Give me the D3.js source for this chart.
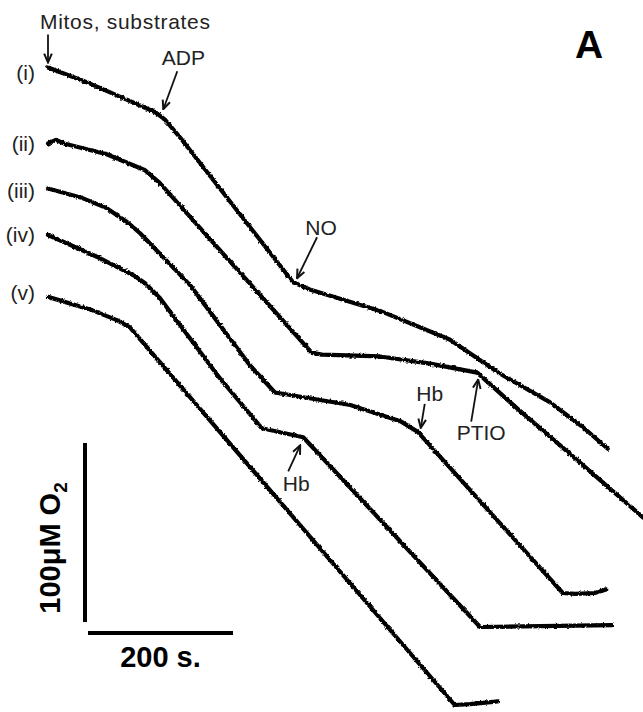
<!DOCTYPE html>
<html>
<head>
<meta charset="utf-8">
<script src="https://cdn.jsdelivr.net/npm/d3@7"></script>
<style>
  html, body { margin: 0; padding: 0; background: #fff; }
  svg { display: block; font-family: "Liberation Sans", Arial, sans-serif; }
</style>
</head>
<body>
<div id="chart"></div>
<script>
// O2 electrode traces, time in s, O2 in uM
const traceLabels = ['(i)', '(ii)', '(iii)', '(iv)', '(v)'];

const traceI = [[0, 226], [58, 217], [103, 209], [148, 201], [161, 197], [182, 187], [338, 106],
  [361, 102], [458, 90], [554, 74], [623, 55], [692, 39], [738, 25], [772, 13]];
const traceII = [[0, 226], [11, 228], [22, 226], [81, 220], [134, 211], [154, 204], [364, 109],
  [378, 108], [458, 107], [527, 103], [592, 98], [647, 78], [716, 54], [821, 17]];
const traceIII = [[0, 226], [45, 221], [81, 215], [110, 207], [127, 201], [196, 172], [279, 127], [313, 112], [417, 105],
  [486, 96], [510, 90], [710, 0], [727, -0.5], [754, 0], [770, 2]];
const traceIV = [[0, 219], [72, 206], [120, 196], [134, 192], [154, 184], [237, 139], [295, 111], [352, 106],
  [596, 0], [679, 0.5], [778, 1]];
const traceV = [[0, 228], [58, 221], [95, 215], [113, 211], [561, 0], [582, 0.5], [621, 2]];

const traces = [traceI, traceII, traceIII, traceIV, traceV];

// additions: which trace, time (s)
const events = [
  { label: 'Mitos, substrates', trace: 0, t: 0 },
  { label: 'ADP', trace: 0, t: 148 },
  { label: 'NO', trace: 0, t: 338 },
  { label: 'PTIO', trace: 1, t: 592 },
  { label: 'Hb', trace: 2, t: 510 },
  { label: 'Hb', trace: 3, t: 352 }
];

const scaleBarTime = 200;   // s
const scaleBarO2 = 100;     // uM

// ---- layout ----
const width = 643, height = 712;
const traceShift = [-233, -157, -112, -78, 0];   // vertical stacking of traces (px)
const labelDy = [5, 0, 2, 0, -4];
// arrow tip, arrow tail and text position, relative to the event point
const eventLayout = [
  { tip: [0, -5], tail: [0, -33], text: [-8, -38], anchor: 'start', spacing: 0.7 },
  { tip: [8, -3], tail: [22, -41], text: [28, -47], anchor: 'middle', spacing: 0 },
  { tip: [4, -4], tail: [24, -45], text: [28, -47], anchor: 'middle', spacing: 0 },
  { tip: [1, 7], tail: [-6, 49], text: [4, 67], anchor: 'middle', spacing: 0 },
  { tip: [3, -4], tail: [7, -28], text: [12, -31], anchor: 'middle', spacing: 0 },
  { tip: [-3, 8], tail: [-15, 34], text: [-7, 54], anchor: 'middle', spacing: 0 }
];

const x = d3.scaleLinear().domain([0, 800]).range([48, 48 + 580]);
const y = d3.scaleLinear().domain([0, 100]).range([705, 705 - 179]);

const svg = d3.select('#chart')
  .append('svg')
  .attr('width', width)
  .attr('height', height)
  .attr('viewBox', [0, 0, width, height]);

// rough recorder-pen texture
const defs = svg.append('defs');
const filter = defs.append('filter')
  .attr('id', 'pen')
  .attr('filterUnits', 'userSpaceOnUse')
  .attr('x', 0).attr('y', 0).attr('width', width).attr('height', height);
filter.append('feTurbulence')
  .attr('type', 'fractalNoise')
  .attr('baseFrequency', 0.4)
  .attr('numOctaves', 2)
  .attr('seed', 4)
  .attr('result', 'noise');
filter.append('feDisplacementMap')
  .attr('in', 'SourceGraphic')
  .attr('in2', 'noise')
  .attr('scale', 3)
  .attr('xChannelSelector', 'R')
  .attr('yChannelSelector', 'G');

defs.append('marker')
  .attr('id', 'head')
  .attr('viewBox', '0 0 10 10')
  .attr('refX', 9).attr('refY', 5)
  .attr('markerWidth', 11).attr('markerHeight', 11)
  .attr('markerUnits', 'userSpaceOnUse')
  .attr('orient', 'auto')
  .append('path')
  .attr('d', 'M1,1.5 L9,5 L1,8.5')
  .attr('fill', 'none')
  .attr('stroke', '#111')
  .attr('stroke-width', 1.8);

const line = d3.line()
  .x(d => x(d[0]))
  .y(d => y(d[1]));

svg.append('g')
  .attr('filter', 'url(#pen)')
  .selectAll('path')
  .data(traces)
  .join('path')
  .attr('transform', (d, i) => `translate(0,${traceShift[i]})`)
  .attr('d', line)
  .attr('fill', 'none')
  .attr('stroke', '#000')
  .attr('stroke-width', 4.2)
  .attr('stroke-linejoin', 'round')
  .attr('stroke-linecap', 'round');

// trace labels
svg.append('g')
  .selectAll('text')
  .data(traces)
  .join('text')
  .attr('x', 35)
  .attr('y', (d, i) => y(d[0][1]) + traceShift[i] + labelDy[i])
  .attr('dy', '0.35em')
  .attr('text-anchor', 'end')
  .attr('font-size', 21)
  .attr('fill', '#222')
  .text((d, i) => traceLabels[i]);

// value on a trace at time t (for placing the arrows)
function pointAt(trace, t) {
  const data = traces[trace];
  const i = Math.max(1, Math.min(data.length - 1, d3.bisector(d => d[0]).left(data, t)));
  const a = data[i - 1], b = data[i];
  const k = (t - a[0]) / (b[0] - a[0]);
  const o = a[1] + k * (b[1] - a[1]);
  return [x(t), y(o) + traceShift[trace]];
}

const ev = svg.append('g')
  .selectAll('g')
  .data(events)
  .join('g');

ev.append('line')
  .each(function(d, i) {
    const p = pointAt(d.trace, d.t);
    const l = eventLayout[i];
    d3.select(this)
      .attr('x1', p[0] + l.tail[0]).attr('y1', p[1] + l.tail[1])
      .attr('x2', p[0] + l.tip[0]).attr('y2', p[1] + l.tip[1]);
  })
  .attr('stroke', '#111')
  .attr('stroke-width', 1.8)
  .attr('marker-end', 'url(#head)');

ev.append('text')
  .each(function(d, i) {
    const p = pointAt(d.trace, d.t);
    const l = eventLayout[i];
    d3.select(this)
      .attr('x', p[0] + l.text[0])
      .attr('y', p[1] + l.text[1])
      .attr('letter-spacing', l.spacing)
      .attr('text-anchor', l.anchor);
  })
  .attr('font-size', 21)
  .attr('fill', '#222')
  .text(d => d.label);

// panel letter
svg.append('text')
  .attr('x', 575).attr('y', 58)
  .attr('font-size', 39)
  .attr('font-weight', 'bold')
  .text('A');

// scale bars
const barX = 85, barBottom = 622;
svg.append('line')
  .attr('x1', barX).attr('x2', barX)
  .attr('y1', barBottom)
  .attr('y2', barBottom - (y(0) - y(scaleBarO2)))
  .attr('stroke', '#000')
  .attr('stroke-width', 4);

const hbarX = 88, hbarY = 633;
svg.append('line')
  .attr('x1', hbarX)
  .attr('x2', hbarX + (x(scaleBarTime) - x(0)))
  .attr('y1', hbarY).attr('y2', hbarY)
  .attr('stroke', '#000')
  .attr('stroke-width', 4);

svg.append('text')
  .attr('x', hbarX + (x(scaleBarTime) - x(0)) / 2)
  .attr('y', 667)
  .attr('text-anchor', 'middle')
  .attr('font-size', 29)
  .attr('font-weight', 'bold')
  .text(scaleBarTime + ' s.');

const vlab = svg.append('text')
  .attr('transform', `translate(60,548) rotate(-90)`)
  .attr('text-anchor', 'middle')
  .attr('font-size', 29)
  .attr('font-weight', 'bold');
vlab.append('tspan').text(scaleBarO2 + 'μM O');
vlab.append('tspan').attr('font-size', 19).attr('dy', 7).text('2');
</script>
</body>
</html>
